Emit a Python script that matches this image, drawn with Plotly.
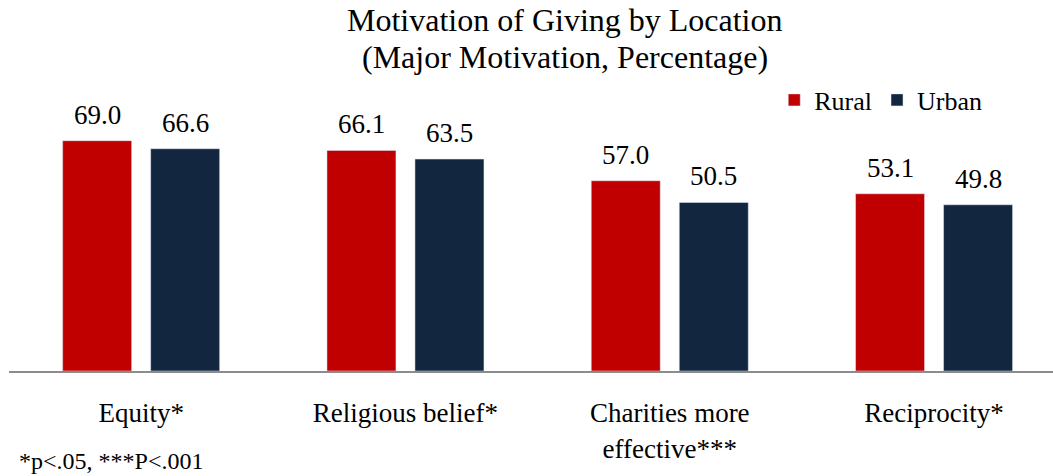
import plotly.graph_objects as go

categories = ["Equity*", "Religious belief*", "Charities more<br>effective***", "Reciprocity*"]
rural = [69.0, 66.1, 57.0, 53.1]
urban = [66.6, 63.5, 50.5, 49.8]

FONT = "Liberation Serif, Times New Roman, serif"
RURAL_COLOR = "#C00000"
URBAN_COLOR = "#12263F"

fig = go.Figure()
fig.add_trace(go.Bar(name="Rural", x=categories, y=rural, marker_color=RURAL_COLOR))
fig.add_trace(go.Bar(name="Urban", x=categories, y=urban, marker_color=URBAN_COLOR))

fig.update_layout(
    width=1053, height=476,
    paper_bgcolor="white", plot_bgcolor="white",
    font=dict(family=FONT, size=27, color="black"),
    barmode="group", bargap=0.334, bargroupgap=0.216,
    margin=dict(l=9, r=0, t=104, b=105),
    legend=dict(
        orientation="h", x=0.733, xanchor="left", y=1.015, yanchor="middle",
        font=dict(size=26, family=FONT), itemwidth=30, traceorder="normal",
        bgcolor="rgba(0,0,0,0)",
    ),
    xaxis=dict(
        showline=True, linecolor="#8c8c8c", linewidth=2,
        ticks="", ticklabelstandoff=17, range=[-0.5, 3.45],
        tickfont=dict(size=27, family=FONT),
    ),
    yaxis=dict(range=[0, 80], visible=False),
    showlegend=True,
)

# value labels above each bar (offset left/right to sit over its bar)
for series, dx in [(rural, -44), (urban, 44)]:
    for cat, v in zip(categories, series):
        fig.add_annotation(
            text=f"{v:.1f}", x=cat, y=v, xref="x", yref="y",
            xshift=dx, yshift=26, yanchor="middle", showarrow=False,
            font=dict(size=27, family=FONT, color="black"),
        )

# two-line title, placed as annotations for tighter line spacing
for line, ypx in [("Motivation of Giving by Location", 20), ("(Major Motivation, Percentage)", 57)]:
    fig.add_annotation(
        text=line, xref="paper", yref="paper", x=0.533, xanchor="center",
        y=1.0, yanchor="middle", yshift=104 - ypx,
        showarrow=False, font=dict(size=32, family=FONT, color="black"),
    )

fig.add_annotation(
    text="*p<.05, ***P<.001", xref="paper", yref="paper",
    x=0.0, xanchor="left", y=0.0, yanchor="middle", xshift=8, yshift=-(461 - 371),
    showarrow=False, font=dict(size=24, family=FONT, color="black"),
)

fig.write_html(
    "out.html",
    config={"displayModeBar": False},
    post_script="document.body.style.margin='0';",
)
